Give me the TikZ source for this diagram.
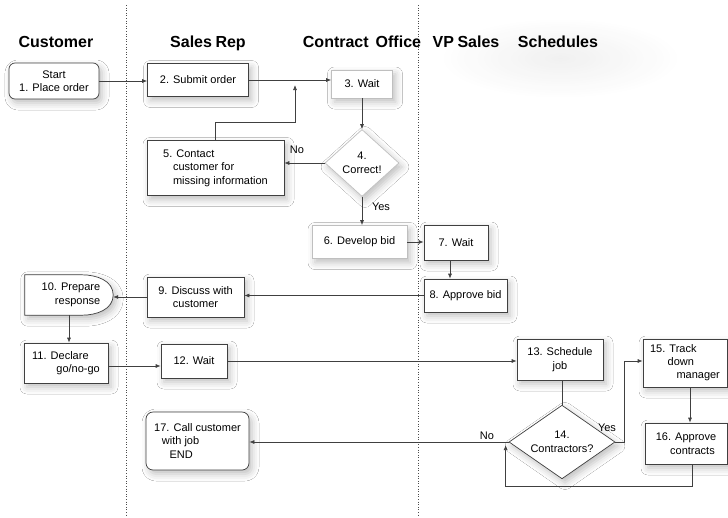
\documentclass[tikz,border=0pt]{standalone}
\usepackage{fontspec}
\setmainfont{Liberation Sans}
\usetikzlibrary{shapes.geometric,arrows.meta,shadows.blur,calc}
\begin{document}
\begin{tikzpicture}[x=1pt,y=-1pt,
  shad/.style={blur shadow={shadow xshift=3pt,shadow yshift=-4pt,shadow blur radius=7pt,shadow opacity=25}},
  box/.style={draw=black!75,fill=white,line width=0.7pt,inner sep=0pt,align=center,
     font=\fontsize{11}{13.5}\selectfont,shad},
  lightbox/.style={box,draw=black!25},
  dia/.style={box,shape=diamond,aspect=1.2},
  arr/.style={draw=black!75,line width=0.7pt,-{Latex[length=5pt,width=4pt]}},
  plain/.style={draw=black!75,line width=0.7pt},
  lane/.style={draw=black!70,dotted,line width=0.6pt},
  head/.style={font=\fontsize{16}{18}\selectfont\bfseries,inner sep=0pt,anchor=base},
  lbl/.style={font=\fontsize{11}{12}\selectfont,inner sep=0pt}]
\useasboundingbox (0,0) rectangle (728,517);
\fill[white] (0,0) rectangle (728,517);
% soft background shading
\shade[inner color=black!7,outer color=white,opacity=0.8] (560,58) ellipse (120 and 40);
% lanes
\draw[lane] (126,5) -- (126,517);
\draw[lane] (418,5) -- (418,517);
% headers
\node[head] (hc) at (56,47) {Customer};
\node[head] (hs) at (208,47) {Sales\hspace{3.5pt}Rep};
\node[head] (ho) at (362,47) {Contract\hspace{7pt}Office};
\node[head] (hv) at (466,47) {VP\hspace{3.5pt}Sales};
\node[head] (hh) at (558,47) {Schedules};
% nodes
\node[box,rounded corners=6pt,minimum width=90,minimum height=36] (n1) at (54,81) {Start\\1. Place order};
\node[box,minimum width=101,minimum height=33] (n2) at (198,80) {2. Submit order};
\node[lightbox,minimum width=61,minimum height=28] (n3) at (362,84) {3. Wait};
\node[dia,draw=black!25,minimum width=74,minimum height=67] (n4) at (362,163) {4.\\Correct!};
\node[box,minimum width=137,minimum height=55,align=left] (n5) at (215.5,168) {5. Contact\\\hspace{0.9em}customer for\\\hspace{0.9em}missing information};
\node[lightbox,minimum width=95,minimum height=33] (n6) at (359.5,242) {6. Develop bid};
\node[box,minimum width=64,minimum height=35] (n7) at (456,242.5) {7. Wait};
\node[box,minimum width=83,minimum height=33] (n8) at (465.5,295.5) {8. Approve bid};
\node[box,minimum width=97,minimum height=40] (n9) at (195.5,297) {9. Discuss with\\customer};
\node[inner sep=0pt,minimum width=88,minimum height=40] (n10) at (69,295) {};
\fill[white,shad] (n10.north west) -- ++(57,0) to[out=0,in=90] (n10.east) to[out=-90,in=0] ($(n10.south west)+(57,0)$) -- (n10.south west) -- cycle;
\draw[draw=black!75,line width=0.7pt] (n10.north west) -- ++(57,0) to[out=0,in=90] (n10.east) to[out=-90,in=0] ($(n10.south west)+(57,0)$) -- (n10.south west) -- cycle;
\node[font=\fontsize{11}{13.5}\selectfont,align=right,inner sep=0pt] (t10) at (71,295) {10. Prepare\\response};
\node[box,minimum width=84,minimum height=40,align=left] (n11) at (66,363) {11. Declare\\\hspace{2.2em}go/no-go};
\node[box,minimum width=66,minimum height=34] (n12) at (194,361) {12. Wait};
\node[box,minimum width=86,minimum height=41] (n13) at (560,359.5) {13. Schedule\\job};
\node[dia,minimum width=106,minimum height=58] (n14) at (562,442) {14.\\Contractors?};
\node[box,minimum width=84,minimum height=48,align=left,font=\fontsize{11}{13}\selectfont] (n15) at (685,363) {15. Track\\\hspace{1.6em}down\\\hspace{2.4em}manager};
\node[box,minimum width=82,minimum height=41,align=left] (n16) at (686,443.5) {16. Approve\\\hspace{1.3em}contracts};
\node[box,rounded corners=7pt,minimum width=103,minimum height=58,align=left] (n17) at (197.5,441) {17. Call customer\\\hspace{0.7em}with job\\\hspace{1.4em}END};
% connectors
\draw[arr] (n1.east) -- (n1.east -| n2.west);
\draw[arr] (n2.east) -- (n2.east -| n3.west);
\coordinate (j1) at (295,85);
\draw[arr] (n5.north) -- ++(0,-18) -| (j1);
\draw[arr] (n3.south) -- (n4.north);
\draw[arr] (n4.west) -- (n4.west -| n5.east);
\node[lbl] (lno1) at (297,150) {No};
\draw[arr] (n4.south) -- (n4.south |- n6.north);
\node[lbl] (lyes1) at (381,207) {Yes};
\draw[arr] (n6.east) -- (n6.east -| n7.west);
\draw[arr] ([xshift=-6pt]n7.south) -- ([xshift=-6pt]n7.south |- n8.north);
\draw[arr] (n8.west) -- (n8.west -| n9.east);
\draw[arr] (n9.west) -- (n9.west -| n10.east);
\draw[arr] (n10.south) -- (n10.south |- n11.north);
\draw[arr] ([yshift=-3pt]n11.east) -- ([yshift=-3pt]n11.east -| n12.west);
\draw[arr] (n12.east) -- (n12.east -| n13.west);
\draw[plain] (n13.south) -- (n13.south -| n14.north) -- (n14.north);
\draw[arr] (n14.east) -- ++(9,0) |- ([yshift=2pt]n15.west);
\node[lbl] (lyes2) at (607,428) {Yes};
\draw[arr] ([xshift=5pt]n15.south) -- ([xshift=5pt]n15.south |- n16.north);
\draw[arr] ([xshift=6pt]n16.south) -- ++(0,22) -| ($(n14.west)+(-3,3)$);
\draw[arr] (n14.west) -- (n14.west -| n17.east);
\node[lbl] (lno2) at (487,436) {No};
\end{tikzpicture}
\end{document}
